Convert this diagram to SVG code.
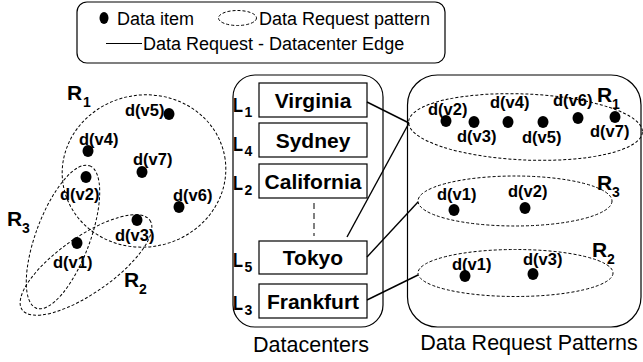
<svg xmlns="http://www.w3.org/2000/svg" width="643" height="362" viewBox="0 0 643 362">
<style>
  .t { font-family: "Liberation Sans", Arial, sans-serif; fill: #000; }
  .leg { font-size: 18px; }
  .cap { font-size: 21.5px; }
  .dl { font-size: 16.5px; font-weight: bold; }
  .rl { font-size: 21px; font-weight: bold; }
  .sub { font-size: 14px; font-weight: bold; }
  .bx { font-size: 21px; font-weight: bold; text-anchor: middle; }
  .box { fill: #fff; stroke: #000; stroke-width: 1.2; }
  .panel { fill: none; stroke: #000; stroke-width: 1.2; }
  .pat { fill: none; stroke: #000; stroke-width: 1; stroke-dasharray: 3 2; }
  .dot { fill: #000; }
  .edge { stroke: #000; stroke-width: 1.4; fill: none; }
</style>

<g id="legend">
  <rect x="77" y="2" width="368" height="61" rx="10" class="panel"/>
  <ellipse cx="104" cy="18" rx="4.5" ry="6" class="dot"/>
  <text x="117" y="25" class="t leg">Data item</text>
  <ellipse cx="237.5" cy="18" rx="19" ry="7.5" class="pat"/>
  <text x="259" y="25" class="t leg">Data Request pattern</text>
  <line x1="106" y1="43.5" x2="142" y2="43.5" stroke="#000" stroke-width="1.2"/>
  <text x="143" y="50" class="t leg">Data Request - Datacenter Edge</text>
</g>

<g id="left-graph">
  <ellipse cx="144" cy="171" rx="82" ry="76" transform="rotate(-10 144 171)" class="pat"/>
  <ellipse cx="63" cy="237" rx="76" ry="27" transform="rotate(-69.5 63 237)" class="pat"/>
  <ellipse cx="86" cy="265" rx="78" ry="28" transform="rotate(-35 86 265)" class="pat"/>
  <text x="67" y="100" class="t rl">R</text><text x="83" y="107" class="t sub">1</text>
  <text x="7" y="226" class="t rl">R</text><text x="22" y="233" class="t sub">3</text>
  <text x="124" y="287" class="t rl">R</text><text x="139" y="294" class="t sub">2</text>
  <ellipse cx="169" cy="114" rx="5.5" ry="6" class="dot"/>
  <text x="125" y="116" class="t dl">d(v5)</text>
  <ellipse cx="88" cy="151" rx="5.5" ry="6" class="dot"/>
  <text x="79" y="145" class="t dl">d(v4)</text>
  <ellipse cx="142" cy="172" rx="5.5" ry="6" class="dot"/>
  <text x="133" y="165" class="t dl">d(v7)</text>
  <ellipse cx="86" cy="177" rx="5.5" ry="6" class="dot"/>
  <text x="60" y="200" class="t dl">d(v2)</text>
  <ellipse cx="179" cy="207" rx="5.5" ry="6" class="dot"/>
  <text x="173" y="201" class="t dl">d(v6)</text>
  <ellipse cx="137" cy="220" rx="5.5" ry="6" class="dot"/>
  <text x="115" y="241" class="t dl">d(v3)</text>
  <ellipse cx="77" cy="243" rx="5.5" ry="6" class="dot"/>
  <text x="53" y="268" class="t dl">d(v1)</text>
</g>

<g id="datacenters">
  <rect x="233" y="75" width="150" height="252" rx="22" class="panel"/>
  <g id="dc-virginia">
    <rect x="259" y="83" width="108" height="34" class="box"/>
    <text x="313" y="108" class="t bx">Virginia</text>
    <text x="233" y="112" class="t rl" textLength="10" lengthAdjust="spacingAndGlyphs">L</text><text x="244.5" y="117" class="t sub">1</text>
  </g>
  <g id="dc-sydney">
    <rect x="259" y="123" width="108" height="34" class="box"/>
    <text x="313" y="148" class="t bx">Sydney</text>
    <text x="233" y="151" class="t rl" textLength="10" lengthAdjust="spacingAndGlyphs">L</text><text x="244.5" y="156" class="t sub">4</text>
  </g>
  <g id="dc-california">
    <rect x="259" y="164" width="108" height="34" class="box"/>
    <text x="313" y="189" class="t bx">California</text>
    <text x="233" y="190" class="t rl" textLength="10" lengthAdjust="spacingAndGlyphs">L</text><text x="244.5" y="195" class="t sub">2</text>
  </g>
  <line x1="314" y1="203" x2="314" y2="236" stroke="#000" stroke-width="1" stroke-dasharray="6 4"/>
  <g id="dc-tokyo">
    <rect x="259" y="241" width="108" height="33" class="box"/>
    <text x="313" y="265" class="t bx">Tokyo</text>
    <text x="233" y="267" class="t rl" textLength="10" lengthAdjust="spacingAndGlyphs">L</text><text x="244.5" y="272" class="t sub">5</text>
  </g>
  <g id="dc-frankfurt">
    <rect x="259" y="284" width="108" height="34" class="box"/>
    <text x="313" y="309" class="t bx">Frankfurt</text>
    <text x="233" y="310" class="t rl" textLength="10" lengthAdjust="spacingAndGlyphs">L</text><text x="244.5" y="315" class="t sub">3</text>
  </g>
  <text x="311" y="352" class="t cap" text-anchor="middle">Datacenters</text>
</g>

<g id="patterns">
  <rect x="407.5" y="75" width="233.5" height="252" rx="30" class="panel"/>
  <g id="pat-r1">
    <ellipse cx="525.5" cy="127" rx="117" ry="33" transform="rotate(2.5 525.5 127)" class="pat"/>
    <text x="597" y="102" class="t rl">R</text><text x="612" y="109" class="t sub">1</text>
    <ellipse cx="446" cy="121" rx="5.5" ry="6" class="dot"/>
    <text x="428" y="115" class="t dl">d(v2)</text>
    <ellipse cx="474" cy="122" rx="5.5" ry="6" class="dot"/>
    <text x="457" y="142" class="t dl">d(v3)</text>
    <ellipse cx="508" cy="122" rx="5.5" ry="6" class="dot"/>
    <text x="490" y="108" class="t dl">d(v4)</text>
    <ellipse cx="543" cy="122" rx="5.5" ry="6" class="dot"/>
    <text x="522" y="143" class="t dl">d(v5)</text>
    <ellipse cx="578" cy="118" rx="5.5" ry="6" class="dot"/>
    <text x="553" y="106" class="t dl">d(v6)</text>
    <ellipse cx="615" cy="117" rx="5.5" ry="6" class="dot"/>
    <text x="590" y="137" class="t dl">d(v7)</text>
  </g>
  <g id="pat-r3">
    <ellipse cx="515" cy="201" rx="97" ry="25" class="pat"/>
    <text x="597" y="190" class="t rl">R</text><text x="612" y="197" class="t sub">3</text>
    <ellipse cx="454" cy="210" rx="5.5" ry="6" class="dot"/>
    <text x="437" y="200" class="t dl">d(v1)</text>
    <ellipse cx="525" cy="208" rx="5.5" ry="6" class="dot"/>
    <text x="508" y="197" class="t dl">d(v2)</text>
  </g>
  <g id="pat-r2">
    <ellipse cx="515.5" cy="273" rx="97.5" ry="23.5" class="pat"/>
    <text x="592" y="257" class="t rl">R</text><text x="607" y="264" class="t sub">2</text>
    <ellipse cx="465" cy="276" rx="5.5" ry="6" class="dot"/>
    <text x="452" y="270" class="t dl">d(v1)</text>
    <ellipse cx="533" cy="274" rx="5.5" ry="6" class="dot"/>
    <text x="523" y="265" class="t dl">d(v3)</text>
  </g>
  <text x="529" y="350" class="t cap" text-anchor="middle">Data Request Patterns</text>
</g>

<g id="connectors">
  <line x1="367" y1="102" x2="409" y2="123" class="edge"/>
  <line x1="347" y1="237" x2="409" y2="123" class="edge"/>
  <line x1="367" y1="257" x2="418" y2="202" class="edge"/>
  <line x1="367" y1="300" x2="418" y2="275" class="edge"/>
</g>
</svg>
